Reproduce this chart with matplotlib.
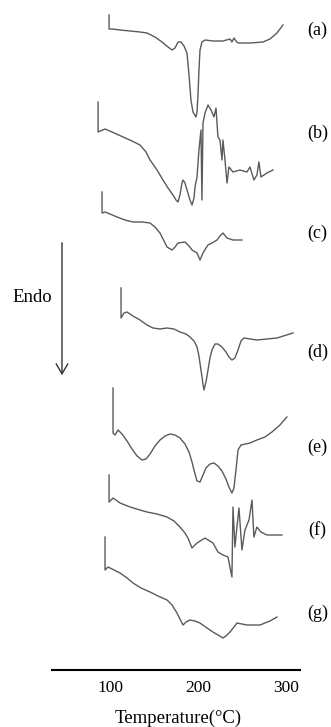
import numpy as np
import matplotlib
matplotlib.use("Agg")
import matplotlib.pyplot as plt

plt.rcParams['font.family'] = ['Liberation Serif', 'DejaVu Serif']

# DSC curves (temperature in C, heat flow in arbitrary units, endo down)
labels = ['(a)', '(b)', '(c)', '(d)', '(e)', '(f)', '(g)']
offsets = [30, 133, 233, 352, 447, 530, 613]   # stacking of the curves

t_a = [98.9, 98.9, 102.3, 111.4, 122.7, 134.1, 142, 151.1, 159.1, 165.9, 170.5, 173.9, 177.3, 180.7,
       184.1, 187.5, 189.8, 192, 194.3, 197.7, 198.9, 200, 201.1, 202.3, 204.5, 208, 217, 228.4,
       236.4, 238.6, 240.9, 243.2, 245.5, 259.1, 273.9, 281.8, 289.8, 296.6]
h_a = [15, 1, 1, 0, -1, -2, -3, -7, -12, -17, -20, -18, -12, -12,
       -16, -23, -45, -70, -82, -87, -82, -65, -40, -20, -12, -10, -11, -11,
       -9, -12, -8, -11, -13, -13, -12, -9, -3, 5]

t_b = [86.4, 86.4, 94.3, 102.3, 114.8, 125, 134.1, 140.9, 145.5, 153.4, 160.2, 165.9, 171.6, 175,
       177.3, 179.5, 181.8, 183, 185.2, 187.5, 190.9, 193.2, 195.5, 196.6, 198.9,
       201.1, 203.4, 204.5, 205.7, 208, 211.4, 214.8, 218.2, 220.5, 222.7, 225, 227.3, 228.4, 230.7,
       233, 235.2, 239.8, 247.7, 255.7, 259.1, 263.6, 267, 269.3, 271.6, 278.4, 285.2]
h_b = [31, 1, 4, 1, -4, -8, -12, -19, -27, -37, -47, -55, -62, -67,
       -69, -62, -50, -47, -50, -57, -67, -72, -65, -54, -44,
       -17, 3, -67, 10, 20, 28, 23, 16, 25, -4, -7, -27, -7, -27,
       -50, -34, -39, -37, -39, -34, -47, -42, -29, -44, -40, -37]

t_c = [90.9, 90.9, 94.3, 100, 108, 117, 126.1, 136.4, 145.5, 151.1, 156.8, 161.4, 164.8, 170.5,
       173.9, 177.3, 185.2, 189.8, 193.2, 198.9, 202.3, 205.7, 209.1, 211.4, 215.9, 221.6, 225,
       228.4, 233, 239.8, 250]
h_c = [41, 20, 21, 19, 16, 13, 11, 11, 10, 6, 0, -8, -14, -17,
       -14, -10, -9, -13, -17, -20, -27, -20, -15, -12, -10, -7, -3,
       0, -5, -7, -7]

t_d = [112.5, 112.5, 115.9, 119.3, 126.1, 134.1, 142, 148.9, 156.8, 164.8, 172.7, 179.5, 186.4,
       190.9, 195.5, 198.9, 201.1, 203.4, 205.7, 206.8, 209.1, 211.4, 213.6, 215.9, 219.3, 222.7,
       227.3, 231.8, 235.2, 238.6, 242, 245.5, 248.9, 252.3, 267, 289.8, 308]
h_d = [64, 34, 39, 40, 36, 32, 27, 24, 23, 24, 23, 20, 18,
       15, 11, 5, -4, -18, -32, -38, -30, -18, -6, 2, 8, 8,
       5, 0, -5, -8, -6, 2, 11, 14, 12, 14, 19]

t_e = [103.4, 103.4, 105.7, 109.1, 113.6, 119.3, 125, 130.7, 136.4, 140.9, 145.5, 151.1, 156.8,
       162.5, 168.2, 173.9, 179.5, 185.2, 189.8, 193.2, 196.6, 198.9, 202.3, 205.7, 209.1, 213.6,
       218.2, 222.7, 227.3, 231.8, 235.2, 238.6, 240.9, 243.2, 245.5, 248.9, 259.1, 267, 276.1,
       284.1, 293.2, 301.1]
h_e = [59, 14, 12, 17, 13, 6, -2, -9, -13, -12, -7, 1, 7,
       11, 13, 12, 9, 3, -5, -15, -27, -34, -35, -28, -21, -17,
       -16, -19, -24, -32, -40, -46, -41, -23, -3, 2, 4, 7, 10,
       15, 22, 30]

t_f = [98.9, 98.9, 103.4, 111.4, 122.7, 134.1, 142, 153.4, 164.8, 172.7, 179.5, 185.2, 188.6,
       193.2, 198.9, 208, 217, 222.7, 228.4, 234.1, 238.6, 239.8, 242, 244.3, 246.6, 250, 253.4,
       258, 261.4, 263.6, 267, 271.6, 278.4, 295.5]
h_f = [55, 28, 32, 27, 23, 20, 18, 16, 13, 9, 3, -3, -8,
       -18, -13, -8, -13, -22, -25, -27, -47, 23, -17, 3, 22, -20, 0,
       10, 30, -7, 3, -2, -5, -5]

t_g = [94.3, 94.3, 97.7, 104.5, 111.4, 119.3, 126.1, 135.2, 145.5, 154.5, 164.8, 170.5, 176.1,
       179.5, 183, 186.4, 190.9, 196.6, 202.3, 210.2, 217, 222.7, 228.4, 231.8, 236.4, 240.9,
       244.3, 250, 255.7, 270.5, 281.8, 289.8]
h_g = [76, 43, 46, 43, 40, 35, 30, 25, 21, 17, 13, 8, 0,
       -6, -12, -9, -7, -8, -10, -15, -19, -22, -25, -23, -19, -14,
       -10, -11, -12, -12, -8, -4]

temps = [t_a, t_b, t_c, t_d, t_e, t_f, t_g]
flows = [h_a, h_b, h_c, h_d, h_e, h_f, h_g]

W, H = 331, 727
fig = plt.figure(figsize=(W / 100, H / 100), dpi=100)
ax = fig.add_axes([52 / W, (H - 670) / H, (300 - 52) / W, 670 / H])

for t, h, off, lab in zip(temps, flows, offsets, labels):
    ax.plot(t, np.array(h) - off, color='#5a5a5a', lw=1.0)
    ax.text(336, -off, lab, fontsize=13, ha='center', va='center')

ax.set_xlim(34, 316)
ax.set_ylim(-670, 0)
for s in ['top', 'left', 'right']:
    ax.spines[s].set_visible(False)
ax.spines['bottom'].set_linewidth(1.5)
ax.set_yticks([])
ax.set_xticks([100, 200, 300])
ax.tick_params(axis='x', length=0, pad=7, labelsize=12.5)

fig.text(178 / W, 1 - 718 / H, 'Temperature(°C)', fontsize=13.5, ha='center', va='center')

# Endo arrow
fig.text(32 / W, 1 - 297 / H, 'Endo', fontsize=13.5, ha='center', va='center')
fig.add_artist(matplotlib.patches.FancyArrowPatch(
    (62 / W, 1 - 240 / H), (62 / W, 1 - 378 / H), transform=fig.transFigure,
    arrowstyle='->,head_length=0.6,head_width=0.35', color='#333333', lw=1.0,
    mutation_scale=12))

fig.savefig('out.png', dpi=100)
